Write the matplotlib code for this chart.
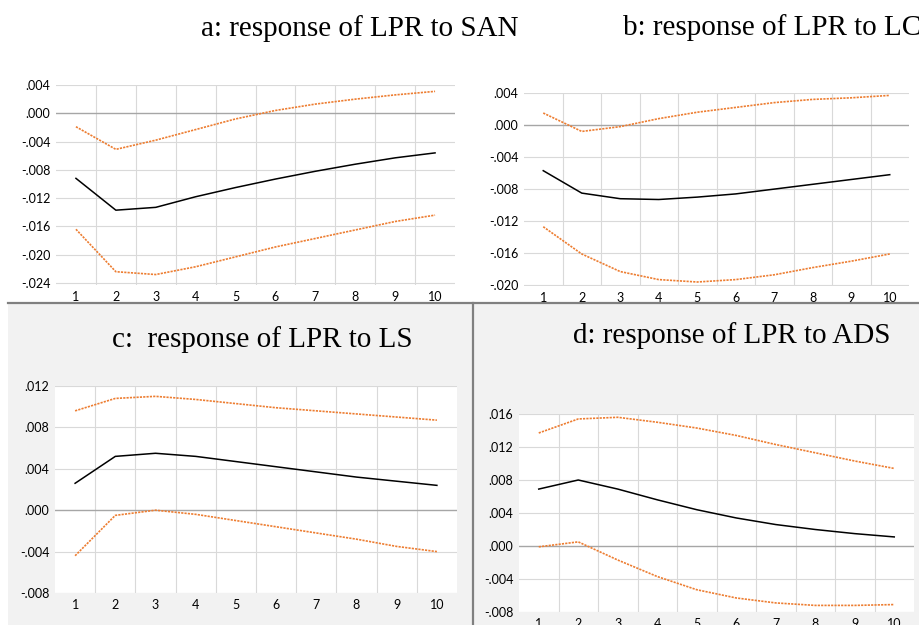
import matplotlib
matplotlib.use("Agg")
import matplotlib.pyplot as plt
from matplotlib.lines import Line2D
from matplotlib.patches import Rectangle

periods = [1, 2, 3, 4, 5, 6, 7, 8, 9, 10]

titles = ["a: response of LPR to SAN", "b: response of LPR to LC",
          "c:  response of LPR to LS", "d: response of LPR to ADS"]

# Panel a: response of LPR to SAN
a_resp = [-0.0092, -0.0137, -0.0133, -0.0118, -0.0105, -0.0093, -0.0082, -0.0072, -0.0063, -0.0056]
a_upper = [-0.0019, -0.0051, -0.0038, -0.0023, -0.0008, 0.0004, 0.0013, 0.0020, 0.0026, 0.0031]
a_lower = [-0.0164, -0.0224, -0.0228, -0.0217, -0.0203, -0.0189, -0.0177, -0.0165, -0.0153, -0.0144]
a_ticks = [0.004, 0.000, -0.004, -0.008, -0.012, -0.016, -0.020, -0.024]

# Panel b: response of LPR to LC
b_resp = [-0.0057, -0.0085, -0.0092, -0.0093, -0.0090, -0.0086, -0.0080, -0.0074, -0.0068, -0.0062]
b_upper = [0.0015, -0.0008, -0.0002, 0.0008, 0.0016, 0.0022, 0.0028, 0.0032, 0.0034, 0.0037]
b_lower = [-0.0127, -0.0161, -0.0183, -0.0193, -0.0196, -0.0193, -0.0187, -0.0178, -0.0170, -0.0161]
b_ticks = [0.004, 0.000, -0.004, -0.008, -0.012, -0.016, -0.020]

# Panel c: response of LPR to LS
c_resp = [0.0026, 0.0052, 0.0055, 0.0052, 0.0047, 0.0042, 0.0037, 0.0032, 0.0028, 0.0024]
c_upper = [0.0096, 0.0108, 0.0110, 0.0107, 0.0103, 0.0099, 0.0096, 0.0093, 0.0090, 0.0087]
c_lower = [-0.0044, -0.0005, 0.0000, -0.0004, -0.0010, -0.0016, -0.0022, -0.0028, -0.0035, -0.0040]
c_ticks = [0.012, 0.008, 0.004, 0.000, -0.004, -0.008]

# Panel d: response of LPR to ADS
d_resp = [0.0069, 0.0080, 0.0069, 0.0056, 0.0044, 0.0034, 0.0026, 0.0020, 0.0015, 0.0011]
d_upper = [0.0137, 0.0154, 0.0156, 0.0150, 0.0143, 0.0134, 0.0123, 0.0113, 0.0103, 0.0094]
d_lower = [-0.0001, 0.0005, -0.0017, -0.0037, -0.0053, -0.0063, -0.0069, -0.0072, -0.0072, -0.0071]
d_ticks = [0.016, 0.012, 0.008, 0.004, 0.000, -0.004, -0.008]

W, H = 920, 625
fig = plt.figure(figsize=(W / 100, H / 100), dpi=100)
fig.patch.set_facecolor("white")

# background regions
fig.patches.append(Rectangle((8 / W, 0), 1 - 8 / W, 1 - 303 / H, transform=fig.transFigure,
                             facecolor="#f2f2f2", edgecolor="none", zorder=-5))
fig.lines.append(Line2D([8 / W, 1], [1 - 303 / H, 1 - 303 / H], transform=fig.transFigure,
                        color="#808080", lw=1.6, zorder=-4))
fig.lines.append(Line2D([473 / W, 473 / W], [0, 1 - 303 / H], transform=fig.transFigure,
                        color="#808080", lw=1.6, zorder=-4))

LABEL_FONT = ["Lato", "DejaVu Sans"]
TITLE_FONT = ["Liberation Serif", "DejaVu Serif"]


def fmt(v):
    s = f"{v:.3f}"
    return s.replace("0.", ".", 1)


def make_panel(box, ylim, ticks, resp, upper, lower):
    l, t, r, b = box
    ax = fig.add_axes([l / W, 1 - b / H, (r - l) / W, (b - t) / H])
    ax.set_zorder(2)
    ax.set_facecolor("white")
    ax.set_xlim(0.5, 10.5)
    ax.set_ylim(*ylim)
    for s in ax.spines.values():
        s.set_visible(False)
    ax.set_xticks(periods)
    ax.set_xticklabels([str(p) for p in periods], fontsize=9, family=LABEL_FONT)
    ax.set_yticks(ticks)
    ax.set_yticklabels([fmt(v) for v in ticks], fontsize=9, family=LABEL_FONT)
    ax.tick_params(length=0, pad=4, colors="#000000")
    for p in periods[:-1]:
        ax.axvline(p + 0.5, color="#d9d9d9", lw=0.8, zorder=1)
    for v in ticks:
        if v != 0:
            ax.axhline(v, color="#d9d9d9", lw=0.8, zorder=1)
    ax.axhline(0, color="#a6a6a6", lw=1.0, zorder=2)
    ax.plot(periods, upper, color="#ED7D31", lw=1.2, linestyle=(0, (1.3, 0.7)), zorder=3)
    ax.plot(periods, lower, color="#ED7D31", lw=1.2, linestyle=(0, (1.3, 0.7)), zorder=3)
    ax.plot(periods, resp, color="#000000", lw=1.1, zorder=4)
    return ax


make_panel((56, 85, 455, 285), (-0.02428, 0.004), a_ticks, a_resp, a_upper, a_lower)
make_panel((524, 93, 909, 286), (-0.0201, 0.004), b_ticks, b_resp, b_upper, b_lower)
make_panel((55, 386, 457, 593), (-0.008, 0.012), c_ticks, c_resp, c_upper, c_lower)
make_panel((519, 414, 914, 612), (-0.008, 0.016), d_ticks, d_resp, d_upper, d_lower)

fig.text(360 / W, 1 - 36 / H, titles[0], ha="center", va="baseline", fontsize=21, family=TITLE_FONT)
fig.text(623 / W, 1 - 35 / H, titles[1], ha="left", va="baseline", fontsize=21, family=TITLE_FONT)
fig.text(262 / W, 1 - 347 / H, titles[2], ha="center", va="baseline", fontsize=21, family=TITLE_FONT)
fig.text(732 / W, 1 - 343 / H, titles[3], ha="center", va="baseline", fontsize=21, family=TITLE_FONT)

fig.savefig("out.png", dpi=100)
